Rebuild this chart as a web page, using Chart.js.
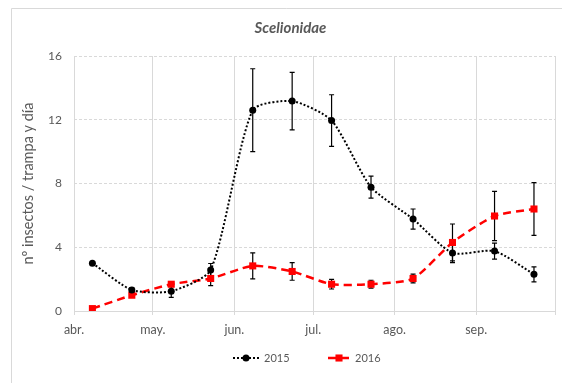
<!DOCTYPE html>
<html>
<head>
<meta charset="utf-8">
<script src="https://cdn.jsdelivr.net/npm/chart.js@4/dist/chart.umd.min.js"></script>
<style>
  html, body { margin: 0; padding: 0; background: #ffffff; }
  #wrap { width: 562px; height: 383px; }
</style>
</head>
<body>
<div id="wrap"><canvas id="chart" width="562" height="383"></canvas></div>
<script>
// Sampling dates (month-day), shared by both seasons
const sampleDates = ['04-08', '04-23', '05-08', '05-23', '06-08', '06-23',
                     '07-08', '07-23', '08-08', '08-23', '09-08', '09-23'];

// Mean insects per trap and day, with their error (±)
const insects2015 = [3.0, 1.32, 1.24, 2.58, 12.6, 13.17, 11.95, 7.77, 5.77, 3.64, 3.76, 2.3];
const error2015   = [0, 0.15, 0.38, 0.4, 2.6, 1.8, 1.62, 0.69, 0.63, 0.6, 0.5, 0.47];
const insects2016 = [0.15, 0.99, 1.68, 2.04, 2.83, 2.48, 1.68, 1.68, 2.04, 4.3, 5.96, 6.4];
const error2016   = [0, 0.1, 0.15, 0.45, 0.82, 0.55, 0.3, 0.25, 0.28, 1.16, 1.55, 1.65];

// Month boundaries on the time axis and their labels
const monthStarts = ['04-01', '05-01', '06-01', '07-01', '08-01', '09-01', '10-01'];
const monthLabels = ['abr.', 'may.', 'jun.', 'jul.', 'ago.', 'sep.', ''];
const yTicks = [0, 4, 8, 12, 16];

const seriesNames = ['2015', '2016'];
const chartTitle = 'Scelionidae';
const yAxisTitle = 'nº insectos / trampa y día';

// Days elapsed since 1 April for a month-day string
function dayOfSeason(md) {
  const [m, d] = md.split('-').map(Number);
  return (Date.UTC(2015, m - 1, d) - Date.UTC(2015, 3, 1)) / 86400000;
}

const TEXT = '#595959';
const GRID = '#d9d9d9';
Chart.defaults.font.family = 'Lato, "Open Sans", sans-serif';
Chart.defaults.color = TEXT;

const toPoints = (vals) => sampleDates.map((d, i) => ({ x: dayOfSeason(d), y: vals[i] }));
const errors = [error2015, error2016];

// Light frame around the whole chart
const framePlugin = {
  id: 'frame',
  beforeDraw(chart) {
    const ctx = chart.ctx;
    ctx.save();
    ctx.fillStyle = '#ffffff';
    ctx.fillRect(0, 0, chart.width, chart.height);
    ctx.strokeStyle = GRID;
    ctx.lineWidth = 1;
    ctx.beginPath();
    ctx.moveTo(11.5, chart.height);
    ctx.lineTo(11.5, 8.5);
    ctx.lineTo(chart.width, 8.5);
    ctx.stroke();
    ctx.restore();
  }
};

// Vertical error bars, drawn beneath the markers
const errorBarPlugin = {
  id: 'errorBars',
  beforeDatasetsDraw(chart) {
    const ctx = chart.ctx;
    const yScale = chart.scales.y;
    ctx.save();
    ctx.strokeStyle = '#000000';
    ctx.lineWidth = 1.2;
    chart.data.datasets.forEach((ds, di) => {
      const meta = chart.getDatasetMeta(di);
      meta.data.forEach((pt, i) => {
        const e = errors[di][i];
        if (!e) return;
        const v = ds.data[i].y;
        const yTop = yScale.getPixelForValue(v + e);
        const yBot = yScale.getPixelForValue(v - e);
        const x = pt.x;
        ctx.beginPath();
        ctx.moveTo(x, yTop); ctx.lineTo(x, yBot);
        ctx.moveTo(x - 2.5, yTop); ctx.lineTo(x + 2.5, yTop);
        ctx.moveTo(x - 2.5, yBot); ctx.lineTo(x + 2.5, yBot);
        ctx.stroke();
      });
    });
    ctx.restore();
  }
};

// Legend below the axis: line sample with its marker, then the series name
const legendPlugin = {
  id: 'seriesLegend',
  afterDraw(chart) {
    const ctx = chart.ctx;
    const y = 358;
    const items = [
      { x0: 233, x1: 259 },
      { x0: 328, x1: 350 }
    ];
    ctx.save();
    chart.data.datasets.forEach((ds, di) => {
      const it = items[di];
      ctx.strokeStyle = ds.borderColor;
      ctx.lineWidth = ds.borderWidth;
      ctx.setLineDash(ds.borderDash);
      ctx.beginPath();
      ctx.moveTo(it.x0, y); ctx.lineTo(it.x1, y);
      ctx.stroke();
      ctx.setLineDash([]);
      const cx = (it.x0 + it.x1) / 2;
      ctx.fillStyle = ds.pointBackgroundColor;
      if (ds.pointStyle === 'rect') {
        const s = ds.pointRadius * Math.SQRT1_2;
        ctx.fillRect(cx - s, y - s, 2 * s, 2 * s);
      } else {
        ctx.beginPath();
        ctx.arc(cx, y, ds.pointRadius, 0, Math.PI * 2);
        ctx.fill();
      }
      ctx.fillStyle = TEXT;
      ctx.font = '11px ' + Chart.defaults.font.family;
      ctx.textBaseline = 'middle';
      ctx.textAlign = 'left';
      ctx.fillText(ds.label, it.x1 + 5, y);
    });
    ctx.restore();
  }
};

new Chart(document.getElementById('chart'), {
  type: 'line',
  data: {
    datasets: [
      {
        label: seriesNames[0],
        data: toPoints(insects2015),
        borderColor: '#000000',
        borderWidth: 2,
        borderDash: [2, 2],
        borderCapStyle: 'butt',
        tension: 0.22,
        pointStyle: 'circle',
        pointRadius: 3.5,
        pointBorderWidth: 0,
        pointBackgroundColor: '#000000',
        pointBorderColor: '#000000'
      },
      {
        label: seriesNames[1],
        data: toPoints(insects2016),
        borderColor: '#ff0000',
        borderWidth: 2.5,
        borderDash: [8, 5],
        borderCapStyle: 'butt',
        tension: 0.22,
        pointStyle: 'rect',
        pointRadius: 5,
        pointBorderWidth: 0,
        pointBackgroundColor: '#ff0000',
        pointBorderColor: '#ff0000'
      }
    ]
  },
  options: {
    responsive: false,
    animation: false,
    events: [],
    layout: { padding: { left: 24, right: 5, top: 0, bottom: 39 } },
    plugins: {
      legend: { display: false },
      tooltip: { enabled: false },
      title: {
        display: true,
        text: chartTitle,
        color: TEXT,
        font: { size: 15, weight: 'bold', style: 'italic' },
        padding: { top: 19, bottom: 19 }
      }
    },
    scales: {
      x: {
        type: 'linear',
        min: dayOfSeason(monthStarts[0]),
        max: dayOfSeason(monthStarts[monthStarts.length - 1]),
        afterBuildTicks(scale) {
          scale.ticks = monthStarts.map(d => ({ value: dayOfSeason(d) }));
        },
        ticks: {
          autoSkip: false,
          maxRotation: 0,
          padding: 7,
          color: TEXT,
          font: { size: 12.5 },
          callback: (v, i) => monthLabels[i]
        },
        grid: { color: GRID, lineWidth: 1, drawTicks: true, tickLength: 4 },
        border: { display: true, color: GRID, width: 1 }
      },
      y: {
        min: yTicks[0],
        max: yTicks[yTicks.length - 1],
        afterBuildTicks(scale) {
          scale.ticks = yTicks.map(v => ({ value: v }));
        },
        afterFit(scale) { scale.width = 50; },
        ticks: { padding: 12, color: TEXT, font: { size: 12 } },
        grid: { color: GRID, lineWidth: 1, drawTicks: false },
        border: { display: false, dash: [3, 2] },
        title: {
          display: true,
          text: yAxisTitle,
          color: TEXT,
          font: { size: 14.5, lineHeight: 0.6 },
          padding: { top: 0, bottom: 0 }
        }
      }
    }
  },
  plugins: [framePlugin, errorBarPlugin, legendPlugin]
});
</script>
</body>
</html>
